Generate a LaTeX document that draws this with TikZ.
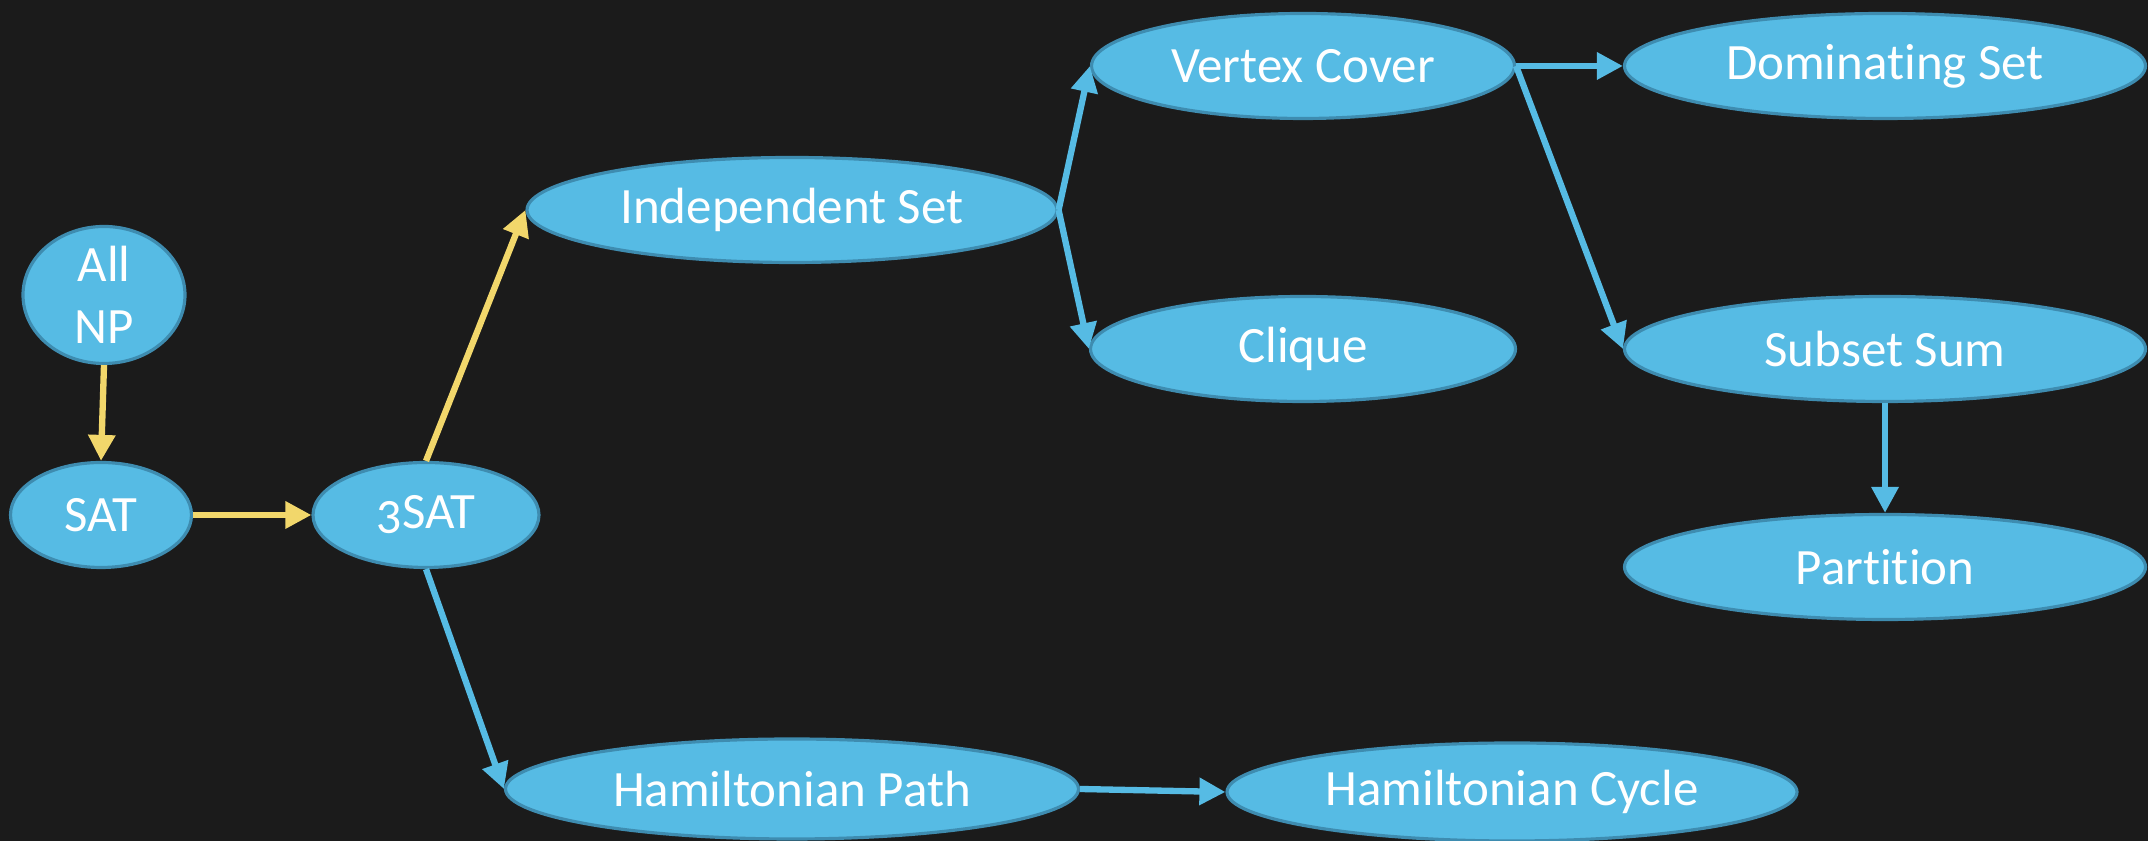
\documentclass[tikz,border=0pt]{standalone}
\usepackage{fontspec}
\setmainfont{Carlito}[Numbers=OldStyle, Ligatures=NoCommon]
\usetikzlibrary{shapes.geometric, arrows.meta}

\definecolor{board}{RGB}{27,27,27}
\definecolor{problemfill}{RGB}{86,187,228}
\definecolor{problemline}{RGB}{62,140,176}
\definecolor{chalkyellow}{RGB}{242,215,107}

\begin{document}
\begin{tikzpicture}[problem/.style = {ellipse, draw=problemline, line width=0.9pt, fill=problemfill,
                                      text=white, inner sep=0pt, minimum height=1.05cm},
                    yellowred/.style = {draw=chalkyellow, line width=1.8pt, -{Triangle[length=0.26cm, width=0.26cm]}},
                    bluered/.style = {draw=problemfill, line width=1.8pt, -{Triangle[length=0.26cm, width=0.26cm]}},
                    font=\fontsize{14.5pt}{17.5pt}\selectfont]
  % Chalkboard.
  \fill [board] (0, 0) rectangle (21.48, 8.41);
  \useasboundingbox (0, 0) rectangle (21.48, 8.41);

  % Problems.
  \node at (1.04, 5.46) [problem, align=center, minimum width=1.62cm, minimum height=1.25cm, name=AllNP] {All\\NP};
  \node at (1.01, 3.26) [problem, minimum width=1.81cm, name=SAT] {SAT};
  \node at (4.26, 3.26) [problem, minimum width=2.26cm, name=ThreeSAT] {3SAT};
  \node at (7.92, 6.31) [problem, minimum width=5.30cm, name=IndependentSet] {Independent Set};
  \node at (13.03, 7.75) [problem, minimum width=4.23cm, name=VertexCover] {Vertex Cover};
  \node at (18.85, 7.75) [problem, minimum width=5.21cm, name=DominatingSet] {Dominating Set};
  \node at (13.03, 4.92) [problem, minimum width=4.25cm, name=Clique] {Clique};
  \node at (18.85, 4.92) [problem, minimum width=5.21cm, name=SubsetSum] {Subset Sum};
  \node at (18.85, 2.74) [problem, minimum width=5.21cm, name=Partition] {Partition};
  \node at (7.92, 0.52) [problem, minimum width=5.73cm, minimum height=1.0cm, name=HamiltonianPath] {Hamiltonian Path};
  \node at (15.12, 0.49) [problem, minimum width=5.70cm, minimum height=0.98cm, name=HamiltonianCycle] {Hamiltonian Cycle};

  % Reductions from SAT.
  \draw [yellowred] (AllNP.south)
                    to (SAT.north);
  \draw [yellowred] (SAT.east)
                    to (ThreeSAT.west);
  \draw [yellowred] (ThreeSAT.north)
                    to (IndependentSet.west);

  % Graph problems.
  \draw [bluered] (ThreeSAT.south)
                  to (HamiltonianPath.west);
  \draw [bluered] (HamiltonianPath.east)
                  to (HamiltonianCycle.west);
  \draw [bluered] (IndependentSet.east)
                  to (VertexCover.west);
  \draw [bluered] (IndependentSet.east)
                  to (Clique.west);
  \draw [bluered] (VertexCover.east)
                  to (DominatingSet.west);

  % Number problems.
  \draw [bluered] (VertexCover.east)
                  to (SubsetSum.west);
  \draw [bluered] (SubsetSum.south)
                  to (Partition.north);
\end{tikzpicture}
\end{document}
